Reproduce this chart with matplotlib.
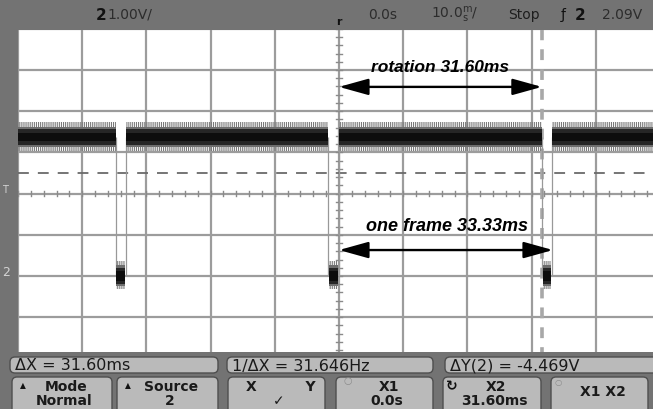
import numpy as np
import matplotlib.pyplot as plt
import matplotlib.transforms as mtransforms
from matplotlib.patches import Rectangle, FancyBboxPatch

ms_per_div = 10.0
volts_per_div = 1.0
center_volts = 2.0          # volts at the middle graticule line
falling_edges_ms = [-34.8, -1.7, 31.6]
rising_edges_ms = [-33.2, 0.0, 33.1]
high_level_v = 3.37
low_level_v = 0.0
trigger_level_v = 2.09
dashed_level_v = 2.5
cursor_x1_ms = 0.0
cursor_x2_ms = 31.60
frame_ms = 33.33

rotation_label = 'rotation 31.60ms'
frame_label = 'one frame 33.33ms'

readouts = ['\u0394X = 31.60ms', '1/\u0394X = 31.646Hz', '\u0394Y(2) = -4.469V']
softkeys = [('Mode', 'Normal'), ('Source', '2'), ('X          Y', '\u2713'),
            ('X1', '0.0s'), ('X2', '31.60ms'), ('X1 X2', '')]

W, H = 653, 409
fig = plt.figure(figsize=(W / 100, H / 100), dpi=100)
fig.patch.set_facecolor('white')

# graticule area: 10 x 8 divisions, ~64.2 x 41.2 px each
gx0, gy_top, dx, dy = 18, 28.8, 64.2, 41.2
ax = fig.add_axes([gx0 / W, 1 - (gy_top + 8 * dy) / H, 10 * dx / W, 8 * dy / H])
ax.set_xlim(-5 * ms_per_div, 5 * ms_per_div)
ax.set_ylim(center_volts - 4 * volts_per_div, center_volts + 4 * volts_per_div)
ax.axis('off')

grid_c = '#9c9c9c'
for k in range(-5, 6):
    ax.axvline(k * ms_per_div, color=grid_c, lw=1.6, zorder=1)
for k in range(-4, 5):
    ax.axhline(center_volts + k * volts_per_div, color=grid_c, lw=1.6, zorder=1)

# minor ticks on the centre lines
for t in np.arange(-50, 50.1, ms_per_div / 5):
    ax.plot([t, t], [center_volts - 0.07, center_volts + 0.07], color='#8a8a8a', lw=1.0, zorder=2)
for v in np.arange(center_volts - 4, center_volts + 4.01, volts_per_div / 5):
    ax.plot([-0.5, 0.5], [v, v], color='#8a8a8a', lw=1.0, zorder=2)

# dashed horizontal reference line
ax.axhline(dashed_level_v, color='#6a6a6a', lw=1.3, ls=(0, (6, 5)), zorder=2)

# X2 cursor
ax.axvline(cursor_x2_ms, color='#a8a8a8', lw=2.6, ls=(0, (3, 2.5)), zorder=2)

plt.rcParams['hatch.linewidth'] = 0.8


def draw_level(t0, t1, level, spread, core):
    # fuzzy noise edge, then the dense core of the trace
    ax.fill_between([t0, t1], level - spread, level + spread * 1.1, facecolor='none',
                    edgecolor='#7a7a7a', hatch='||||||||', lw=0, zorder=3)
    ax.fill_between([t0, t1], level - core * 1.25, level + core * 1.35, color='#6e6e6e', lw=0, zorder=4)
    ax.fill_between([t0, t1], level - core, level + core, color='#262626', lw=0, zorder=4)
    ax.fill_between([t0, t1], level - core * 0.55, level + core * 0.55, color='#0d0d0d', lw=0, zorder=4)


# high segments between pulses
starts = [-50.0] + rising_edges_ms
ends = falling_edges_ms + [50.0]
for s, e in zip(starts, ends):
    draw_level(s, e, high_level_v, 0.34, 0.19)

# low pulses
for f, r in zip(falling_edges_ms, rising_edges_ms):
    ax.vlines([f, r], low_level_v, high_level_v, color='#999999', lw=0.9, zorder=3)
    draw_level(f + 0.1, r - 0.1, low_level_v, 0.32, 0.2)

# annotations
arrow_kw = dict(arrowstyle='<|-|>,head_length=1.8,head_width=0.5', color='black',
                lw=1.7, shrinkA=0, shrinkB=0, mutation_scale=10)
ax.annotate('', xy=(cursor_x1_ms, 4.59), xytext=(cursor_x2_ms, 4.59), arrowprops=arrow_kw, zorder=6)
ax.annotate('', xy=(cursor_x1_ms, 0.63), xytext=(frame_ms, 0.63), arrowprops=arrow_kw, zorder=6)
ax.text(15.8, 5.05, rotation_label, ha='center', va='center', fontsize=12.5,
        fontweight='bold', fontstyle='italic', family='Liberation Sans', zorder=6)
ax.text(16.9, 1.21, frame_label, ha='center', va='center', fontsize=13,
        fontweight='bold', fontstyle='italic', family='Liberation Sans', zorder=6)

# --- scope chrome ---
pix = mtransforms.IdentityTransform()


def rect(x0, y0, x1, y1, color, z=5):
    fig.add_artist(Rectangle((x0, H - y1), x1 - x0, y1 - y0, transform=pix,
                             facecolor=color, edgecolor='none', zorder=z))


def button(x0, y0, x1, y1, z=6):
    fig.add_artist(FancyBboxPatch((x0, H - y1), x1 - x0, y1 - y0, transform=pix,
                                  boxstyle='round,pad=0,rounding_size=5',
                                  facecolor='#bababa', edgecolor='#4e4e4e', lw=1.0, zorder=z))


def ftext(x, y, s, **kw):
    kw.setdefault('family', 'DejaVu Sans')
    kw.setdefault('zorder', 8)
    fig.text(x / W, 1 - y / H, s, **kw)


bg = '#737373'
rect(0, 0, W, 30, bg)
rect(0, 0, 18, 352, bg)
rect(0, 352, W, H, bg)

# header
ftext(96, 15, '2', fontsize=11, fontweight='bold', color='#111111', va='center')
ftext(107, 15, '1.00V/', fontsize=10, color='#2c2c2c', va='center')
ftext(339, 22, 'r', fontsize=8, fontweight='bold', color='#111111', va='center', ha='center')
ftext(368, 15, '0.0s', fontsize=10, color='#2c2c2c', va='center')
ftext(431, 15, r'10.0$^{\rm m}_{\rm s}$/', fontsize=10, color='#2c2c2c', va='center')
ftext(508, 15, 'Stop', fontsize=10, color='#1e1e1e', va='center')
ftext(561, 15, '\u0192', fontsize=10, color='#111111', va='center')
ftext(575, 15, '2', fontsize=11, fontweight='bold', color='#111111', va='center')
ftext(602, 15, '2.09V', fontsize=10, color='#2c2c2c', va='center')

# left markers
ftext(2, 190, 'T', fontsize=7, color='#d4d4d4', va='center')
ftext(2, 272, '2', fontsize=9, color='#d4d4d4', va='center')

# readout row
for (x0, x1), s in zip([(10, 218), (227, 433), (445, 660)], readouts):
    button(x0, 357, x1, 373)
    ftext(x0 + 5, 366, s, fontsize=11.5, color='#1a1a1a', va='center')

# softkeys
key_spans = [(12, 112), (117, 218), (228, 325), (336, 433), (443, 541), (551, 648)]
for (x0, x1), (top, bot) in zip(key_spans, softkeys):
    button(x0, 377, x1, H + 8)
    cx = (x0 + x1) / 2
    if bot:
        ftext(cx + 4, 387, top, fontsize=10, fontweight='bold', color='#1a1a1a', va='center', ha='center')
        ftext(cx + 2, 401, bot, fontsize=10, fontweight='bold', color='#1a1a1a', va='center', ha='center')
    else:
        ftext(cx + 3, 392, top, fontsize=10, fontweight='bold', color='#1a1a1a', va='center', ha='center')
ftext(20, 386, '\u25b2', fontsize=5.5, color='#111111', va='center')
ftext(125, 386, '\u25b2', fontsize=5.5, color='#111111', va='center')
ftext(348, 381, '\u25cb', fontsize=7, color='#8a8a8a', va='center', ha='center')
ftext(452, 386, '\u21bb', fontsize=10, fontweight='bold', color='#111111', va='center', ha='center')
ftext(558, 383, '\u25cb', fontsize=6, color='#8a8a8a', va='center', ha='center')

fig.savefig('out.png', dpi=100)
